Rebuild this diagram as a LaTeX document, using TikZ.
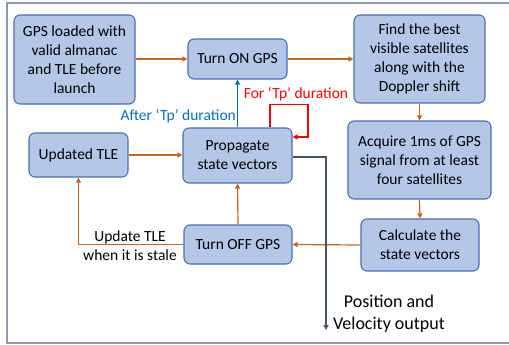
\documentclass[tikz,border=0pt]{standalone}
\usepackage{fontspec}
\setmainfont{Carlito}
\usetikzlibrary{arrows.meta}
\definecolor{boxfill}{HTML}{B4C7E7}
\definecolor{boxdraw}{HTML}{4A6FB5}
\definecolor{orangeline}{HTML}{C9641E}
\definecolor{blueline}{HTML}{0070C0}
\definecolor{slateline}{HTML}{44546A}
\definecolor{framecol}{HTML}{8C9AAE}
\tikzset{
  stepbox/.style={draw=boxdraw, fill=boxfill, line width=1.1pt, rounded corners=6pt,
    align=center, inner sep=0pt, font=\fontsize{15.5}{19}\selectfont},
  tip/.style={-{Triangle[length=5pt,width=5pt]}},
  oarrow/.style={tip, draw=orangeline, line width=1.2pt},
  lbl/.style={align=center, inner sep=0pt, font=\fontsize{15.5}{19}\selectfont},
}
\begin{document}
\begin{tikzpicture}[x=1pt,y=-1pt]
\useasboundingbox (0,0) rectangle (509,345);
\draw[framecol, line width=1.3pt] (520,3) -- (7,3) -- (7,343) -- (520,343);
\node[stepbox, minimum width=121pt, minimum height=89pt] (gps) at (74.5,59.5) {GPS loaded with\\valid almanac\\and TLE before\\launch};
\node[stepbox, minimum width=99pt, minimum height=40pt] (on) at (237.5,59) {Turn ON GPS};
\node[stepbox, minimum width=131pt, minimum height=88pt] (find) at (419.5,59) {Find the best\\visible satellites\\along with the\\Doppler shift};
\node[stepbox, minimum width=143pt, minimum height=78pt] (acq) at (419.5,160) {Acquire 1ms of GPS\\signal from at least\\four satellites};
\node[stepbox, minimum width=118pt, minimum height=52pt] (calc) at (420,245) {Calculate the\\state vectors};
\node[stepbox, minimum width=108pt, minimum height=39pt] (off) at (238,244.5) {Turn OFF GPS};
\node[stepbox, minimum width=109pt, minimum height=55pt] (prop) at (237.5,155.5) {Propagate\\state vectors};
\node[stepbox, minimum width=99pt, minimum height=44pt] (tle) at (78.5,155) {Updated TLE};
\coordinate (outend) at (326,330);

\draw[oarrow] (gps.east |- on) -- (on.west);
\draw[oarrow] (on.east) -- (find.west |- on);
\draw[oarrow] (find.south) -- (acq.north);
\draw[oarrow] (acq.south) -- (calc.north);
\draw[oarrow] (calc.west) -- (off.east);
\draw[oarrow] (off.north) -- (prop.south);
\draw[oarrow] (tle.east) -- (prop.west |- tle);
\draw[oarrow] (off.west) -| (tle.south);
\draw[tip, draw=blueline, line width=1.2pt] (prop.north) -- (on.south);
\draw[tip, draw=red, line width=1.2pt] ([xshift=32.5pt]prop.north) -- ++(0,-23) -| (308,137) -- (prop.east |- 0,137);
\draw[tip, draw=slateline, line width=1.2pt] (prop.east |- 0,157) -| (outend);

\node[lbl, text=blueline, anchor=east] (after) at (236,116) {After ‘Tp’ duration};
\node[lbl, text=red] (for) at (296,94) {For ‘Tp’ duration};
\node[lbl] (upd) at (130,245.5) {Update TLE\\when it is stale};
\node[lbl, font=\fontsize{18}{22}\selectfont] (pos) at (389,314) {Position and\\Velocity output};
\end{tikzpicture}
\end{document}
